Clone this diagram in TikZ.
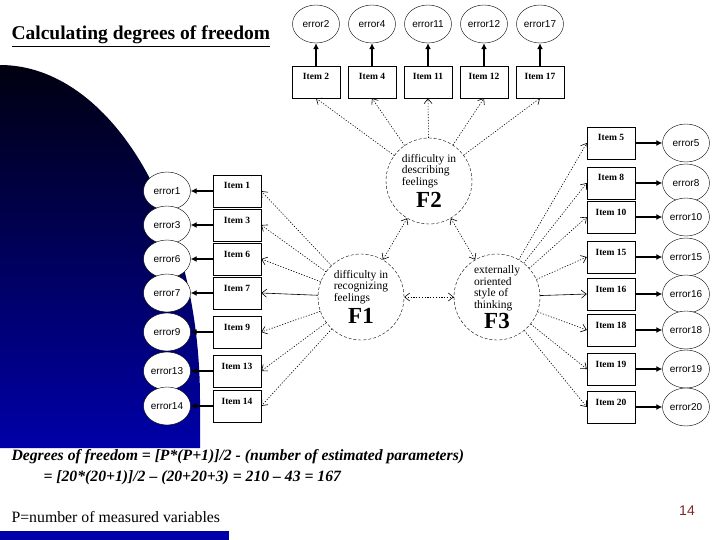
\documentclass[tikz,border=0pt]{standalone}
\usepackage{fontspec}
\setmainfont{Liberation Serif}
\setsansfont{Liberation Sans}
\usetikzlibrary{arrows.meta,shapes.geometric}

\definecolor{slideblue}{RGB}{0,0,168}
\definecolor{slidedark}{RGB}{0,0,16}
\definecolor{pagered}{RGB}{128,40,40}

\begin{document}
\begin{tikzpicture}[
    x=1pt, y=-1pt,
    >=Latex,
    err/.style={ellipse, draw, fill=white, minimum width=47pt, minimum height=38pt,
        inner sep=-1pt, font=\sffamily\fontsize{10}{11}\selectfont},
    item/.style={rectangle, draw, fill=white, minimum width=48pt, minimum height=32pt,
        inner sep=1pt, text height=7pt, text depth=11pt, font=\bfseries\fontsize{9.5}{10}\selectfont},
    factor/.style={circle, draw, dash pattern=on 3pt off 2pt, minimum size=86pt,
        inner sep=0pt, align=center, font=\fontsize{11.5}{11.5}\selectfont},
    resid/.style={line width=2pt, -{Latex[length=6pt,width=6pt]}},
    load/.style={line width=0.6pt, dash pattern=on 1.2pt off 1.6pt, -{Straight Barb[length=5pt,width=8pt]}},
    loadsolid/.style={line width=0.6pt, -{Straight Barb[length=5pt,width=8pt]}},
    corr/.style={line width=0.6pt, dash pattern=on 1.2pt off 1.6pt,
        {Straight Barb[length=5pt,width=8pt]}-{Straight Barb[length=5pt,width=8pt]}},
]

% slide background
\fill[white] (0,0) rectangle (720,540);
\useasboundingbox (0,0) rectangle (720,540);
\shade[top color=slidedark, bottom color=slideblue]
    (0,65) .. controls (110,65) and (200,215) .. (200,400) -- (200,448) -- (0,448) -- cycle;
\fill[slideblue] (0,531) rectangle (229,540);

\node[anchor=base west, font=\bfseries\fontsize{19.5}{22}\selectfont] (title) at (8,40)
    {\underline{Calculating degrees of freedom}};

% factors
\node[factor] (F2) at (429,181) {\begin{tabular}{@{}l@{}}difficulty in\\describing\\feelings\end{tabular}\\[3pt]{\fontsize{23}{23}\selectfont\bfseries F2}};
\node[factor] (F1) at (361,297) {\begin{tabular}{@{}l@{}}difficulty in\\recognizing\\feelings\end{tabular}\\[3pt]{\fontsize{23}{23}\selectfont\bfseries F1}};
\node[factor] (F3) at (497,297) {\begin{tabular}{@{}l@{}}externally\\oriented\\style of\\thinking\end{tabular}\\[0pt]{\fontsize{23}{23}\selectfont\bfseries F3}};

% top row (F2)
\foreach \n/\x in {2/316,4/372,11/428,12/484,17/540}{
    \node[err] (e\n) at (\x,24) {error\n};
    \node[item] (i\n) at (\x,82) {Item \n};
    \draw[resid] (i\n) -- (e\n);
    \draw[load] (F2) -- (i\n.south);
}

% left column (F1)
\foreach \n/\y in {1/191,3/225,6/259,7/293,9/332,13/371,14/406}{
    \node[err] (e\n) at (167,\y) {error\n};
    \node[item] (i\n) at (237,\y) {Item \n};
    \draw[resid] (i\n) -- (e\n);
}
\foreach \n in {1,3,6,9,13,14}
    \draw[load] (F1) -- (i\n.east);
\draw[loadsolid] (F1) -- (i7.east);

% right column (F3)
\foreach \n/\y in {5/143,8/183,10/217,15/257,16/294,18/330,19/369,20/407}{
    \node[item] (i\n) at (611,\y) {Item \n};
    \node[err] (e\n) at (686,\y) {error\n};
    \draw[resid] (i\n) -- (e\n);
}
\foreach \n in {5,8,10,15,18,19,20}
    \draw[load] (F3) -- (i\n.west);
\draw[loadsolid] (F3) -- (i16.west);

% factor correlations
\draw[corr] (F2) -- (F1);
\draw[corr] (F2) -- (F3);
\draw[corr] (F1) -- (F3);

% formula
\node[anchor=base west, font=\bfseries\itshape\fontsize{15.7}{18}\selectfont] (dof) at (8,460)
    {Degrees of freedom = [P*(P+1)]/2 - (number of estimated parameters)};
\node[anchor=base west, font=\bfseries\itshape\fontsize{15.7}{18}\selectfont] (dofcalc) at (40,481)
    {= [20*(20+1)]/2 – (20+20+3) = 210 – 43 = 167};
\node[anchor=base west, font=\fontsize{15.8}{18}\selectfont] (pdef) at (8,522)
    {P=number of measured variables};
\node[font=\sffamily\fontsize{14}{16}\selectfont, text=pagered] (page) at (687,511) {14};

\end{tikzpicture}
\end{document}
